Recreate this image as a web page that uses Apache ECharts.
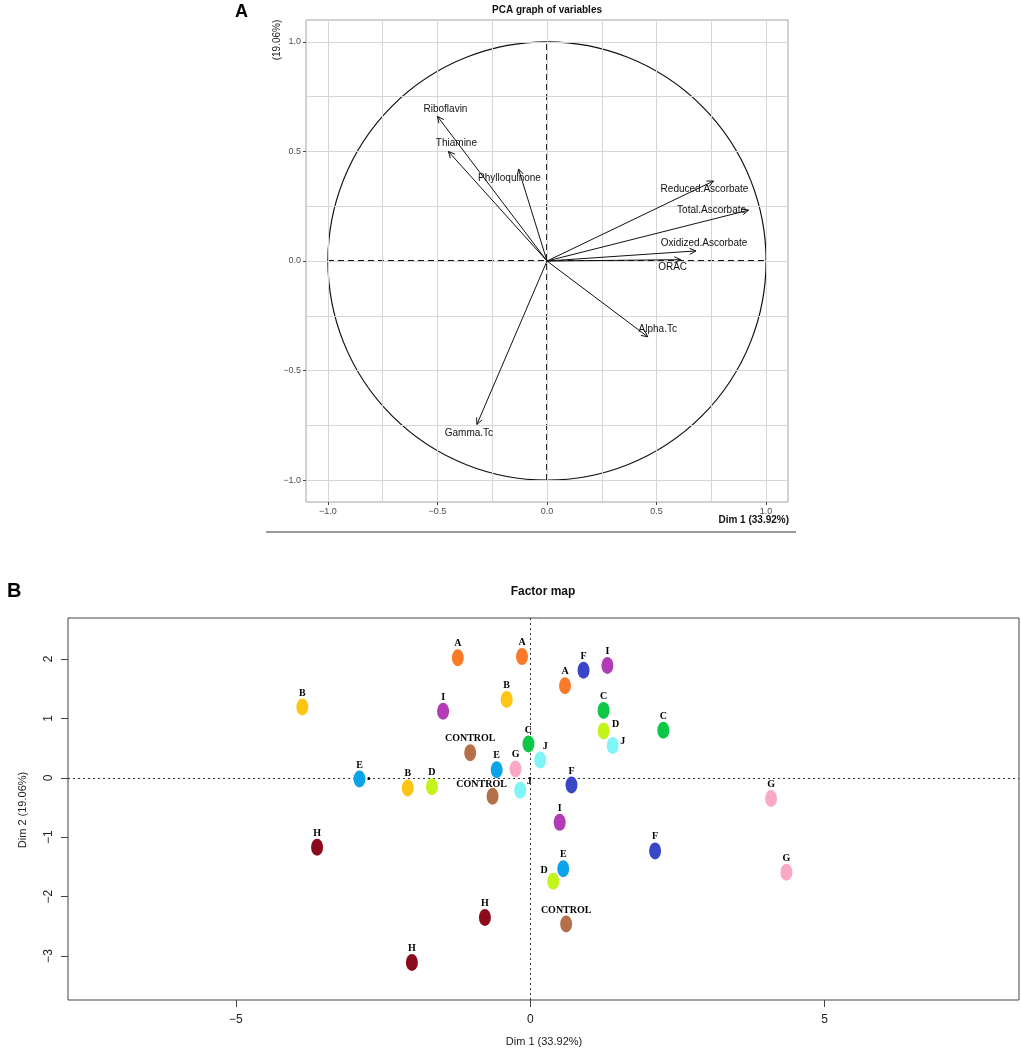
<!DOCTYPE html>
<html><head><meta charset="utf-8">
<script src="https://cdn.jsdelivr.net/npm/echarts@6/dist/echarts.min.js"></script>
<style>html,body{margin:0;padding:0;background:#fff}#c{width:1021px;height:1054px}</style>
</head><body><div id="c"></div>
<script>
// ---------- Panel A: variables ----------
const varNames = ['Riboflavin','Thiamine','Phylloquinone','Reduced.Ascorbate','Total.Ascorbate','Oxidized.Ascorbate','ORAC','Alpha.Tc','Gamma.Tc'];
const varDim1 = [-0.50, -0.45, -0.13, 0.76, 0.92, 0.68, 0.61, 0.46, -0.32];
const varDim2 = [0.66, 0.50, 0.42, 0.365, 0.232, 0.046, 0.006, -0.346, -0.746];
const corTicks = [-1, -0.5, 0, 0.5, 1];
const corGrid = [-1, -0.75, -0.5, -0.25, 0, 0.25, 0.5, 0.75, 1];

// ---------- Panel B: individuals ----------
const indLabels = ['A','A','A','B','B','B','C','C','C','D','D','D','E','E','E','F','F','F','G','G','G','H','H','H','I','I','I','J','J','J','CONTROL','CONTROL','CONTROL'];
const indDim1 = [-1.23,-0.14,0.59, -3.87,-0.40,-2.08, 1.245,2.26,-0.03, 1.245,-1.67,0.39, -2.90,-0.57,0.56, 0.905,0.70,2.12, -0.25,4.09,4.35, -3.62,-0.77,-2.01, -1.48,1.31,0.50, 1.40,0.17,-0.17, -1.02,-0.64,0.61];
const indDim2 = [2.02,2.04,1.55, 1.19,1.32,-0.17, 1.135,0.80,0.57, 0.79,-0.15,-1.74, -0.02,0.135,-1.53, 1.81,-0.12,-1.23, 0.15,-0.35,-1.59, -1.17,-2.35,-3.11, 1.12,1.89,-0.75, 0.545,0.30,-0.21, 0.42,-0.31,-2.46];
const extraDot = [[-2.74, -0.01]];
const indXTicks = [-5, 0, 5];
const indYTicks = [-3, -2, -1, 0, 1, 2];

// ---------- styles ----------
const groupColors = {A:'#F97A28',B:'#FFC514',C:'#0CC846',D:'#C3F51C',E:'#0BA3EA',F:'#3A46C8',G:'#F9A9C4',H:'#8B0A1C',I:'#B23BB6',J:'#80F5F7',CONTROL:'#B5704A'};
const varLabelOffset = {
  'Riboflavin':[8,-7],'Thiamine':[8,-8],'Phylloquinone':[-9,9],'Reduced.Ascorbate':[-9,8],
  'Total.Ascorbate':[-37,0],'Oxidized.Ascorbate':[8,-8],'ORAC':[-8,8],'Alpha.Tc':[10,-8],'Gamma.Tc':[-8,9]
};
const indLabelOffset = {9:[12,-6],11:[-9,-11],27:[10,-4],28:[5,-14],29:[9,-9],31:[-11,-12]};
const fmtNum = v => (v < 0 ? '\u2212' : '') + Math.abs(v).toFixed(1);
const fmtInt = v => (v < 0 ? '\u2212' : '') + Math.abs(v);

const chart = echarts.init(document.getElementById('c'), null, {renderer:'canvas'});

const option = {
  animation: false,
  backgroundColor: '#fff',
  grid: [
    {left:306, top:20, width:482, height:482, show:true, borderColor:'#a3a3a3', borderWidth:1, backgroundColor:'#fff'},
    {left:68, top:618, right:2, bottom:54, show:true, borderColor:'#444', borderWidth:1, backgroundColor:'#fff'}
  ],
  xAxis: [
    {gridIndex:0, type:'value', min:-1.1, max:1.1,
     axisLine:{show:false, onZero:false}, splitLine:{show:false},
     axisTick:{show:true, customValues:corTicks, length:3, lineStyle:{color:'#444'}},
     axisLabel:{customValues:corTicks, formatter:fmtNum, color:'#4d4d4d', fontSize:9, margin:5, fontFamily:'Liberation Sans'}},
    {gridIndex:1, type:'value', min:-7.85, max:8.3,
     axisLine:{show:false, onZero:false}, splitLine:{show:false},
     axisTick:{show:true, customValues:indXTicks, length:7, lineStyle:{color:'#444'}},
     axisLabel:{customValues:indXTicks, formatter:fmtInt, color:'#222', fontSize:12, margin:14, fontFamily:'Liberation Sans'}}
  ],
  yAxis: [
    {gridIndex:0, type:'value', min:-1.1, max:1.1,
     axisLine:{show:false, onZero:false}, splitLine:{show:false},
     axisTick:{show:true, customValues:corTicks, length:3, lineStyle:{color:'#444'}},
     axisLabel:{customValues:corTicks, formatter:fmtNum, color:'#4d4d4d', fontSize:9, margin:5, fontFamily:'Liberation Sans'}},
    {gridIndex:1, type:'value', min:-3.74, max:2.69,
     axisLine:{show:false, onZero:false}, splitLine:{show:false},
     axisTick:{show:true, customValues:indYTicks, length:7, lineStyle:{color:'#444'}},
     axisLabel:{customValues:indYTicks, formatter:fmtInt, color:'#222', fontSize:12, margin:13, rotate:90, fontFamily:'Liberation Sans'}}
  ],
  series: [
    // grid lines panel A
    {type:'line', xAxisIndex:0, yAxisIndex:0, data:[], silent:true, z:1,
     markLine:{silent:true, symbol:['none','none'], label:{show:false}, animation:false,
       lineStyle:{color:'#d6d6d6', width:1, type:'solid'},
       data: corGrid.map(v=>({xAxis:v})).concat(corGrid.map(v=>({yAxis:v})))}},
    // unit circle
    {type:'custom', xAxisIndex:0, yAxisIndex:0, silent:true, z:3, data:[[0,0,1]],
     renderItem(params, api){
       const c = api.coord([api.value(0), api.value(1)]);
       const r = api.size([api.value(2), api.value(2)]);
       return {type:'circle', shape:{cx:c[0], cy:c[1], r:r[0]}, style:{fill:'none', stroke:'#111', lineWidth:1.2}};
     }},
    // dashed axes within the circle
    {type:'line', xAxisIndex:0, yAxisIndex:0, data:[[-1,0],[1,0]], symbol:'none', silent:true, z:4,
     lineStyle:{color:'#111', width:1.8, type:[6,4]}},
    {type:'line', xAxisIndex:0, yAxisIndex:0, data:[[0,-1],[0,1]], symbol:'none', silent:true, z:4,
     lineStyle:{color:'#111', width:1.8, type:[6,4]}},
    // arrows + labels
    {type:'custom', xAxisIndex:0, yAxisIndex:0, silent:true, z:5,
     data: varNames.map((n,i)=>({name:n, value:[varDim1[i], varDim2[i]]})),
     renderItem(params, api){
       const o = api.coord([0,0]);
       const t = api.coord([api.value(0), api.value(1)]);
       const ang = Math.atan2(t[1]-o[1], t[0]-o[0]);
       const L = 7, a = Math.PI/7;
       const p1 = [t[0]-L*Math.cos(ang-a), t[1]-L*Math.sin(ang-a)];
       const p2 = [t[0]-L*Math.cos(ang+a), t[1]-L*Math.sin(ang+a)];
       const name = varNames[params.dataIndex];
       const off = varLabelOffset[name] || [0,-8];
       return {type:'group', children:[
         {type:'line', shape:{x1:o[0], y1:o[1], x2:t[0], y2:t[1]}, style:{stroke:'#111', lineWidth:1}},
         {type:'polyline', shape:{points:[p1, t, p2]}, style:{stroke:'#111', lineWidth:1, fill:'none'}},
         {type:'text', x:t[0]+off[0], y:t[1]+off[1], style:{text:name, fill:'#111', font:'10px "Liberation Sans", Arial', align:'center', verticalAlign:'middle'}}
       ]};
     }},
    // panel B reference lines
    {type:'line', xAxisIndex:1, yAxisIndex:1, data:[], silent:true, z:1,
     markLine:{silent:true, symbol:['none','none'], label:{show:false}, animation:false,
       lineStyle:{color:'#333', width:1, type:[2,3]},
       data:[{xAxis:0},{yAxis:0}]}},
    // individuals
    {type:'scatter', xAxisIndex:1, yAxisIndex:1, z:5, symbol:'circle', symbolSize:[12,17],
     data: indLabels.map((g,i)=>({
       name:g, value:[indDim1[i], indDim2[i]],
       itemStyle:{color:groupColors[g], opacity:1},
       label:{show:true, position:'inside', offset: indLabelOffset[i] || [0,-14],
              formatter:g, color:'#000', fontSize:10, fontWeight:'bold', fontFamily:'"Liberation Serif", "Times New Roman", serif'}
     }))},
    {type:'scatter', xAxisIndex:1, yAxisIndex:1, z:6, symbol:'circle', symbolSize:3,
     itemStyle:{color:'#000', opacity:1}, data: extraDot}
  ],
  graphic: [
    {type:'text', left:235, top:3, style:{text:'A', font:'bold 18px "Liberation Sans", Arial', fill:'#000'}},
    {type:'text', x:547, y:10, style:{text:'PCA graph of variables', font:'bold 10px "Liberation Sans", Arial', fill:'#111', align:'center', verticalAlign:'middle'}},
    {type:'text', x:277, y:40, rotation:Math.PI/2, style:{text:'(19.06%)', font:'10px "Liberation Sans", Arial', fill:'#222', align:'center', verticalAlign:'middle'}},
    {type:'text', x:789, y:520, style:{text:'Dim 1 (33.92%)', font:'bold 10px "Liberation Sans", Arial', fill:'#111', align:'right', verticalAlign:'middle'}},
    {type:'line', shape:{x1:266, y1:532, x2:796, y2:532}, style:{stroke:'#9a9a9a', lineWidth:2}},
    {type:'text', left:7, top:581, style:{text:'B', font:'bold 20px "Liberation Sans", Arial', fill:'#000'}},
    {type:'text', x:543, y:592, style:{text:'Factor map', font:'bold 12px "Liberation Sans", Arial', fill:'#111', align:'center', verticalAlign:'middle'}},
    {type:'text', x:544, y:1042, style:{text:'Dim 1 (33.92%)', font:'11px "Liberation Sans", Arial', fill:'#222', align:'center', verticalAlign:'middle'}},
    {type:'text', x:23, y:810, rotation:Math.PI/2, style:{text:'Dim 2 (19.06%)', font:'11px "Liberation Sans", Arial', fill:'#222', align:'center', verticalAlign:'middle'}}
  ]
};
chart.setOption(option);
</script>
</body></html>
